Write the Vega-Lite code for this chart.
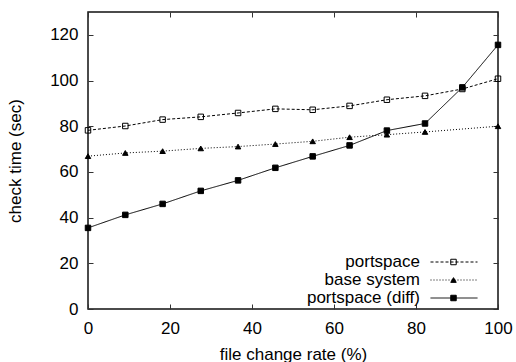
{
  "$schema": "https://vega.github.io/schema/vega-lite/v6.json",
  "width": 410,
  "height": 297,
  "autosize": {"type": "none"},
  "padding": {"left": 88, "top": 12, "right": 18, "bottom": 53},
  "config": {
    "font": "Liberation Sans",
    "view": {"stroke": "#111111", "strokeWidth": 1.5},
    "axis": {
      "grid": false,
      "domain": false,
      "tickColor": "#333333",
      "tickSize": -5,
      "labelFlush": false,
      "labelFontSize": 17,
      "titleFontSize": 17,
      "titleFontWeight": "normal",
      "labelColor": "black",
      "titleColor": "black"
    },
    "legend": {
      "orient": "none",
      "title": null,
      "padding": 0,
      "labelFontSize": 17,
      "labelColor": "black",
      "clipHeight": 17,
      "rowPadding": 0,
      "direction": "vertical",
      "legendY": 241.5
    }
  },
  "data": {
    "values": [
      {"x": 0, "y": 78.2, "series": "portspace"},
      {"x": 9.1, "y": 80.1, "series": "portspace"},
      {"x": 18.2, "y": 82.9, "series": "portspace"},
      {"x": 27.5, "y": 84.1, "series": "portspace"},
      {"x": 36.6, "y": 85.8, "series": "portspace"},
      {"x": 45.7, "y": 87.6, "series": "portspace"},
      {"x": 54.8, "y": 87.2, "series": "portspace"},
      {"x": 63.8, "y": 88.9, "series": "portspace"},
      {"x": 72.9, "y": 91.6, "series": "portspace"},
      {"x": 82.2, "y": 93.3, "series": "portspace"},
      {"x": 91.3, "y": 96.3, "series": "portspace"},
      {"x": 100, "y": 100.8, "series": "portspace"},
      {"x": 0, "y": 66.9, "series": "base system"},
      {"x": 9.1, "y": 68.3, "series": "base system"},
      {"x": 18.2, "y": 69.1, "series": "base system"},
      {"x": 27.5, "y": 70.3, "series": "base system"},
      {"x": 36.6, "y": 71.1, "series": "base system"},
      {"x": 45.7, "y": 72.2, "series": "base system"},
      {"x": 54.8, "y": 73.4, "series": "base system"},
      {"x": 63.8, "y": 75.2, "series": "base system"},
      {"x": 72.9, "y": 76.3, "series": "base system"},
      {"x": 82.2, "y": 77.5, "series": "base system"},
      {"x": 100, "y": 80.0, "series": "base system"},
      {"x": 0, "y": 35.5, "series": "portspace (diff)"},
      {"x": 9.1, "y": 41.2, "series": "portspace (diff)"},
      {"x": 18.2, "y": 46.0, "series": "portspace (diff)"},
      {"x": 27.5, "y": 51.7, "series": "portspace (diff)"},
      {"x": 36.6, "y": 56.3, "series": "portspace (diff)"},
      {"x": 45.7, "y": 61.8, "series": "portspace (diff)"},
      {"x": 54.8, "y": 66.8, "series": "portspace (diff)"},
      {"x": 63.8, "y": 71.6, "series": "portspace (diff)"},
      {"x": 72.9, "y": 78.1, "series": "portspace (diff)"},
      {"x": 82.2, "y": 81.2, "series": "portspace (diff)"},
      {"x": 91.3, "y": 97.0, "series": "portspace (diff)"},
      {"x": 100, "y": 115.6, "series": "portspace (diff)"}
    ]
  },
  "layer": [
    {
      "mark": {"type": "line", "color": "black", "strokeWidth": 1},
      "encoding": {
        "x": {
          "field": "x", "type": "quantitative",
          "scale": {"domain": [0, 100]},
          "axis": {"values": [0, 20, 40, 60, 80, 100], "title": "file change rate (%)", "labelPadding": 16.2, "labelDx": 2.5, "titlePadding": 10}
        },
        "y": {
          "field": "y", "type": "quantitative",
          "scale": {"domain": [0, 130]},
          "axis": {"values": [0, 20, 40, 60, 80, 100, 120], "title": "check time (sec)", "labelPadding": 15, "titlePadding": 25}
        },
        "strokeDash": {
          "field": "series", "type": "nominal",
          "scale": {"domain": ["portspace", "base system", "portspace (diff)"], "range": [[3, 2], [1, 2], [1, 0]]},
          "legend": {
            "legendX": 342,
            "symbolType": "stroke", "symbolSize": 2209,
            "symbolStrokeColor": "black", "symbolStrokeWidth": 1,
            "symbolOffset": 0, "labelOffset": 0, "labelExpr": "''"
          }
        }
      }
    },
    {
      "mark": {"type": "point", "filled": true, "stroke": "black", "strokeWidth": 1, "opacity": 1, "size": 30},
      "encoding": {
        "x": {"field": "x", "type": "quantitative", "axis": {"orient": "top", "labels": false, "title": null, "values": [0, 20, 40, 60, 80, 100]}},
        "y": {"field": "y", "type": "quantitative", "axis": {"orient": "right", "labels": false, "title": null, "values": [0, 20, 40, 60, 80, 100, 120]}},
        "shape": {
          "field": "series", "type": "nominal",
          "scale": {"domain": ["portspace", "base system", "portspace (diff)"], "range": ["square", "triangle-up", "square"]},
          "legend": {
            "legendX": 357,
            "symbolSize": 30, "symbolStrokeColor": "black", "symbolStrokeWidth": 1, "symbolOpacity": 1,
            "symbolOffset": 0, "labelOffset": 0, "labelExpr": "''",
            "encode": {"symbols": {"update": {"stroke": {"value": "black"}, "strokeWidth": {"value": 1}}}}
          }
        },
        "fill": {
          "field": "series", "type": "nominal",
          "scale": {"domain": ["portspace", "base system", "portspace (diff)"], "range": ["transparent", "black", "black"]},
          "legend": {
            "legendX": 357,
            "symbolSize": 30, "symbolStrokeColor": "black", "symbolStrokeWidth": 1, "symbolOpacity": 1,
            "symbolOffset": 0, "labelOffset": 0, "labelExpr": "''",
            "encode": {"symbols": {"update": {"stroke": {"value": "black"}, "strokeWidth": {"value": 1}}}}
          }
        }
      }
    },
    {
      "mark": {"type": "line", "opacity": 0},
      "encoding": {
        "x": {"field": "x", "type": "quantitative", "axis": null},
        "y": {"field": "y", "type": "quantitative", "axis": null},
        "color": {
          "field": "series", "type": "nominal",
          "scale": {"domain": ["portspace", "base system", "portspace (diff)"], "range": ["black", "black", "black"]},
          "legend": {
            "legendX": 283,
            "symbolType": "stroke", "symbolSize": 2209,
            "symbolOpacity": 0, "symbolStrokeColor": "transparent",
            "labelAlign": "right", "symbolOffset": 0, "labelOffset": 0
          }
        }
      }
    }
  ],
  "resolve": {
    "axis": {"x": "independent", "y": "independent"},
    "legend": {"strokeDash": "independent", "shape": "independent", "fill": "independent", "color": "independent"}
  }
}
